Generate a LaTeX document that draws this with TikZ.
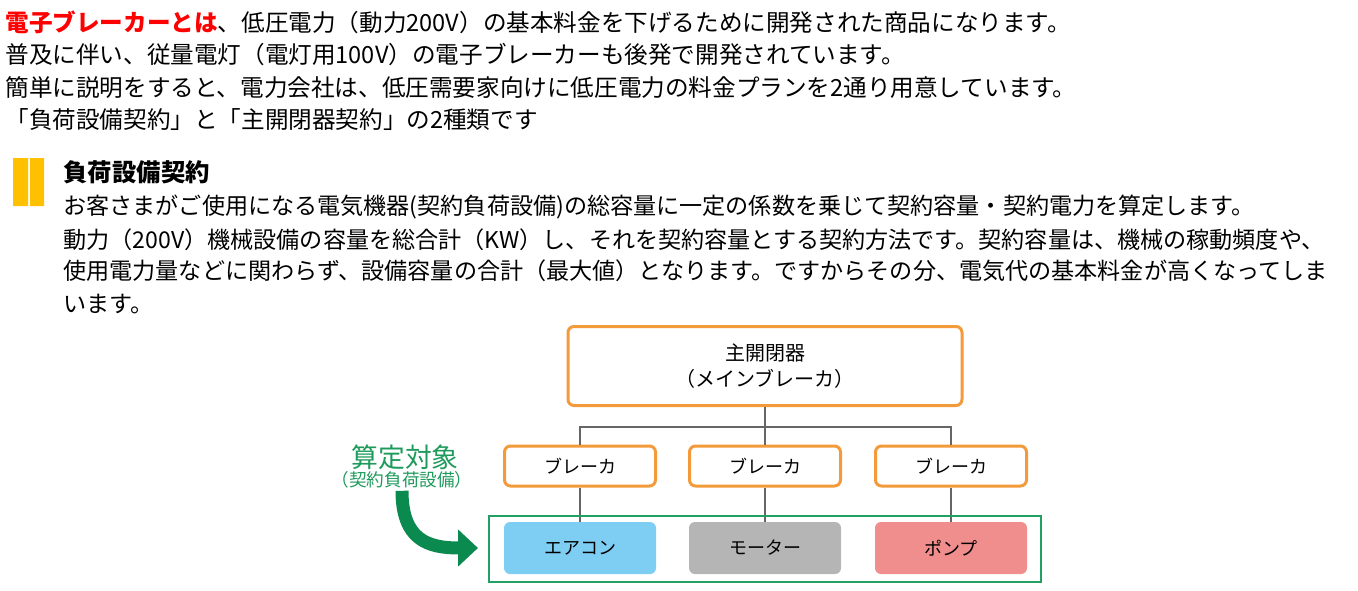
\documentclass[tikz,border=0pt]{standalone}
\usepackage{fontspec}
\setmainfont{Noto Sans CJK JP}
\usetikzlibrary{arrows.meta}
\definecolor{brkorange}{HTML}{F39A3B}
\definecolor{markyellow}{HTML}{FFC000}
\definecolor{framegreen}{HTML}{22A063}
\definecolor{arrowgreen}{HTML}{0B8A50}
\definecolor{labelgreen}{HTML}{1E9A5C}
\definecolor{aircon}{HTML}{7ECEF4}
\definecolor{motor}{HTML}{B4B5B4}
\definecolor{pump}{HTML}{F08D8D}
\begin{document}
\begin{tikzpicture}[x=0.5pt,y=-0.5pt]
		\tikzstyle{line}=[anchor=west,inner sep=0pt,font=\fontsize{11.8}{14}\selectfont]
		\tikzstyle{body}=[line,font=\fontsize{11.55}{14}\selectfont]
		\tikzstyle{mainbox}=[draw=brkorange,line width=1.5pt,rounded corners=3pt,minimum width=197pt,minimum height=39.5pt,align=center,font=\fontsize{10}{13}\selectfont]
		\tikzstyle{breaker}=[draw=brkorange,line width=1.5pt,rounded corners=3pt,minimum width=75.5pt,minimum height=20pt,font=\fontsize{9}{11}\selectfont]
		\tikzstyle{device}=[rounded corners=3pt,minimum width=76pt,minimum height=26pt,font=\fontsize{9}{11}\selectfont]
		\tikzstyle{wire}=[draw=black!60,line width=0.6pt]
		\useasboundingbox (0,0) rectangle (1358,590);
		\node[line] (t_1) at (5,22) {\textcolor{red}{\textbf{電子ブレーカーとは}}、低圧電力（動力200V）の基本料金を下げるために開発された商品になります。};
		\node[line] (t_2) at (5,55) {普及に伴い、従量電灯（電灯用100V）の電子ブレーカーも後発で開発されています。};
		\node[line] (t_3) at (5,88) {簡単に説明をすると、電力会社は、低圧需要家向けに低圧電力の料金プランを2通り用意しています。};
		\node[line] (t_4) at (5,120) {「負荷設備契約」と「主開閉器契約」の2種類です};
		\fill[markyellow] (13,158) rectangle (28,206) (30,158) rectangle (44,206);
		\node[line,font=\fontsize{12.2}{14}\selectfont\bfseries] (head) at (63,172) {負荷設備契約};
		\node[body] (b_1) at (63,207) {お客さまがご使用になる電気機器(契約負荷設備)の総容量に一定の係数を乗じて契約容量・契約電力を算定します。};
		\node[body] (b_2) at (63,240) {動力（200V）機械設備の容量を総合計（KW）し、それを契約容量とする契約方法です。契約容量は、機械の稼動頻度や、};
		\node[body] (b_3) at (63,271) {使用電力量などに関わらず、設備容量の合計（最大値）となります。ですからその分、電気代の基本料金が高くなってしま};
		\node[body] (b_4) at (63,304) {います。};
		\node[mainbox] (main) at (765,366) {主開閉器\\（メインブレーカ）};
		\node[breaker] (brk_1) at (580,466) {ブレーカ};
		\node[breaker] (brk_2) at (765,466) {ブレーカ};
		\node[breaker] (brk_3) at (951,466) {ブレーカ};
		\node[device,fill=aircon] (eq_1) at (580,548) {エアコン};
		\node[device,fill=motor] (eq_2) at (765,548) {モーター};
		\node[device,fill=pump] (eq_3) at (951,548) {ポンプ};
		\coordinate (bus) at (765,427);
		\draw[wire] (main) -- (bus) (bus) -| (brk_1) (bus) -| (brk_3) (bus) -- (brk_2);
		\draw[wire] (brk_1) -- (eq_1) (brk_2) -- (eq_2) (brk_3) -- (eq_3);
		\draw[framegreen,line width=1.2pt] (489,516) rectangle (1041,582);
		\node[text=labelgreen,font=\fontsize{13.4}{15}\selectfont] (target) at (405,457) {算定対象};
		\node[text=labelgreen,inner sep=1pt,font=\fontsize{8.8}{10}\selectfont] (target_sub) at (402,480) {（契約負荷設備）};
		\coordinate (tip) at (478,548);
		\draw[arrowgreen,line width=6.5pt,-{Triangle[length=10pt,width=18pt]}] (target_sub.south) .. controls (402,540) and (428,548) .. (tip);
	\end{tikzpicture}
\end{document}
